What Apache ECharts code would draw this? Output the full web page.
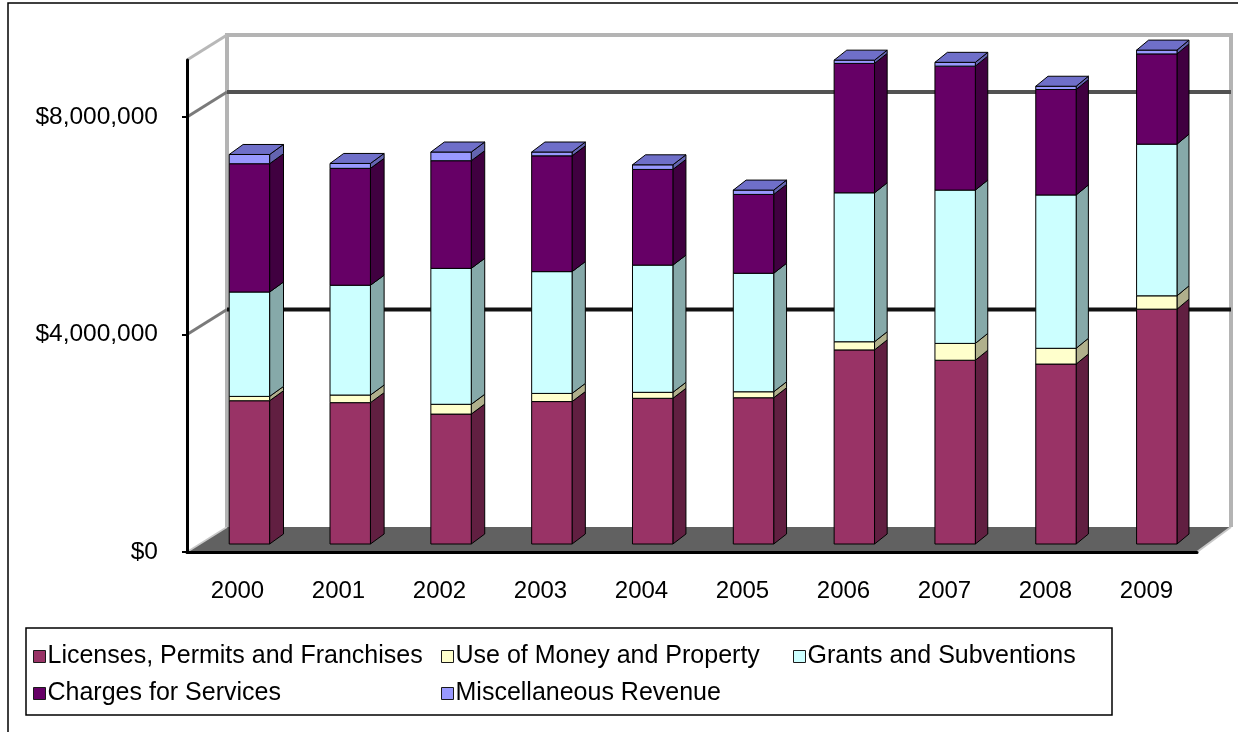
<!DOCTYPE html>
<html>
<head>
<meta charset="utf-8">
<script src="https://cdn.jsdelivr.net/npm/echarts@6/dist/echarts.min.js"></script>
<style>
  html, body { margin: 0; padding: 0; background: #ffffff; }
  #chart { width: 1238px; height: 732px; }
</style>
</head>
<body>
<div id="chart"></div>
<script>
// Revenue by source, fiscal years 2000-2009 (dollars)
const years = ['2000', '2001', '2002', '2003', '2004', '2005', '2006', '2007', '2008', '2009'];
const licenses = [2635000, 2600000, 2390000, 2620000, 2680000, 2690000, 3570000, 3380000, 3310000, 4320000];
const useOfMoney = [80000, 140000, 180000, 150000, 110000, 110000, 150000, 310000, 290000, 245000];
const grants = [1920000, 2020000, 2500000, 2240000, 2340000, 2180000, 2740000, 2820000, 2820000, 2790000];
const charges = [2360000, 2150000, 1980000, 2130000, 1760000, 1450000, 2380000, 2280000, 1940000, 1660000];
const misc = [170000, 90000, 160000, 70000, 85000, 80000, 60000, 70000, 60000, 70000];
const seriesNames = [
  'Licenses, Permits and Franchises',
  'Use of Money and Property',
  'Grants and Subventions',
  'Charges for Services',
  'Miscellaneous Revenue'
];
const yTicks = [0, 4000000, 8000000];
const yMax = 9050000;

// Face colours: front, side and top of each box
const frontColors = ['#993366', '#FFFFCC', '#CCFFFF', '#660066', '#9999FF'];
const sideColors = ['#611f41', '#b0b08c', '#86a9a9', '#400040', '#6464b0'];
const topColor = '#6f6fc9';

// Build stacked [index, base, top] triples
const layers = [licenses, useOfMoney, grants, charges, misc];
const running = years.map(() => 0);
const stacked = layers.map(vals => vals.map((v, i) => {
  const base = running[i];
  running[i] += v;
  return [i, base, running[i]];
}));

// Pseudo-3D geometry
const WALL_DX = 40, WALL_DY = -25;     // front plane -> back wall
const SHRINK = 0.15;                   // horizontal depth shrinks slightly to the right
const BAR_DX = 12, BAR_DY = -8;        // front plane -> bar front face
const BOX_DX = 14, BOX_DY = -10;       // bar depth
const BAR_RATIO = 0.4;

function plotFrame(api) {
  const band = api.size([1, 0])[0];
  const c0 = api.coord([0, 0]);
  return { band: band, left: c0[0] - band / 2, width: band * years.length, y0: c0[1] };
}
function depthScale(x, f) { return 1 - SHRINK * (x - f.left) / f.width; }

function renderBackdrop(params, api) {
  const f = plotFrame(api);
  const right = f.left + f.width;
  const back = (x, y) => [x + WALL_DX * depthScale(x, f), y + WALL_DY];
  const yTop = api.coord([0, yMax])[1];
  const bl = back(f.left, f.y0), br = back(right, f.y0);
  const tl = back(f.left, yTop), tr = back(right, yTop);
  const kids = [];
  // floor
  kids.push({ type: 'polygon', shape: { points: [[f.left, f.y0], [right, f.y0], br, bl] },
    style: { fill: '#616161' } });
  kids.push({ type: 'line', shape: { x1: f.left, y1: f.y0, x2: bl[0], y2: bl[1] },
    style: { stroke: '#c8c8c8', lineWidth: 1.5 } });
  kids.push({ type: 'line', shape: { x1: right, y1: f.y0, x2: br[0], y2: br[1] },
    style: { stroke: '#c8c8c8', lineWidth: 2 } });
  // back wall outline and side wall top edge
  kids.push({ type: 'polyline', shape: { points: [bl, tl, tr, br] },
    style: { stroke: '#b4b4b4', lineWidth: 4, fill: null } });
  kids.push({ type: 'line', shape: { x1: f.left, y1: yTop, x2: tl[0], y2: tl[1] },
    style: { stroke: '#b8b8b8', lineWidth: 3 } });
  // gridlines across the back wall, joined to the axis along the side wall
  yTicks.forEach((v, n) => {
    if (v === 0) return;
    const y = api.coord([0, v])[1];
    const a = back(f.left, y), b = back(right, y);
    kids.push({ type: 'line', shape: { x1: f.left, y1: y, x2: a[0], y2: a[1] },
      style: { stroke: '#7a7a7a', lineWidth: 3 } });
    kids.push({ type: 'line', shape: { x1: a[0], y1: a[1], x2: b[0], y2: b[1] },
      style: { stroke: n === 1 ? '#111111' : '#525252', lineWidth: 4 } });
  });
  return { type: 'group', children: kids };
}

function makeBoxRenderer(s) {
  const isTop = s === layers.length - 1;
  return function (params, api) {
    const f = plotFrame(api);
    const i = api.value(0);
    const pLo = api.coord([i, api.value(1)]);
    const pHi = api.coord([i, api.value(2)]);
    const k = depthScale(pLo[0], f);
    const w = f.band * BAR_RATIO;
    const x0 = pLo[0] - w / 2 + BAR_DX * k, x1 = x0 + w;
    const yb = pLo[1] + BAR_DY, yt = pHi[1] + BAR_DY;
    const dx = BOX_DX * k, dy = BOX_DY;
    const edge = { stroke: '#000000', lineWidth: 1 };
    const kids = [
      { type: 'polygon', shape: { points: [[x1, yt], [x1 + dx, yt + dy], [x1 + dx, yb + dy], [x1, yb]] },
        style: Object.assign({ fill: sideColors[s] }, edge) },
      { type: 'rect', shape: { x: x0, y: yt, width: w, height: yb - yt },
        style: Object.assign({ fill: frontColors[s] }, edge) }
    ];
    if (isTop) {
      kids.push({ type: 'polygon', shape: { points: [[x0, yt], [x1, yt], [x1 + dx, yt + dy], [x0 + dx, yt + dy]] },
        style: Object.assign({ fill: topColor }, edge) });
    }
    return { type: 'group', children: kids };
  };
}

const FONT = "'Liberation Sans', Arial, sans-serif";
const legendBase = {
  padding: 0, itemWidth: 12, itemHeight: 26, itemGap: 0,
  icon: 'path://M0,0h10v10h-10z', selectedMode: false,
  itemStyle: { borderColor: '#1a1a1a', borderWidth: 1 },
  textStyle: { fontFamily: FONT, fontSize: 25, color: '#000000', padding: [0, 0, 0, -3] }
};
const legendSlots = [
  { name: seriesNames[0], left: 33, top: 644 },
  { name: seriesNames[1], left: 441, top: 644 },
  { name: seriesNames[2], left: 793, top: 644 },
  { name: seriesNames[3], left: 33, top: 681 },
  { name: seriesNames[4], left: 441, top: 681 }
];

const chart = echarts.init(document.getElementById('chart'), null, { renderer: 'canvas' });
chart.setOption({
  animation: false,
  backgroundColor: '#ffffff',
  textStyle: { fontFamily: FONT },
  grid: { left: 187, right: 41, top: 60, bottom: 180, containLabel: false },
  xAxis: {
    type: 'category', data: years, z: 10,
    axisLine: { lineStyle: { color: '#000000', width: 3 } },
    axisTick: { interval: 0, length: 7, lineStyle: { color: '#000000', width: 2 } },
    axisLabel: { interval: 0, fontSize: 24, color: '#000000', margin: 27, fontFamily: FONT },
    splitLine: { show: false }
  },
  yAxis: {
    type: 'value', min: 0, max: yMax, interval: 4000000, z: 10,
    axisLine: { show: true, lineStyle: { color: '#000000', width: 3 } },
    axisTick: { show: true, length: 5, customValues: yTicks, lineStyle: { color: '#000000', width: 2 } },
    axisLabel: {
      customValues: yTicks, fontSize: 24.5, color: '#000000', margin: 29, fontFamily: FONT,
      formatter: v => '$' + Math.round(v).toLocaleString('en-US')
    },
    splitLine: { show: false }
  },
  legend: legendSlots.map(sl => Object.assign({}, legendBase, { data: [sl.name], left: sl.left, top: sl.top })),
  graphic: [
    { type: 'rect', silent: true, shape: { x: 8, y: 3, width: 1260, height: 760 },
      style: { fill: null, stroke: '#000000', lineWidth: 1.5 } },
    { type: 'rect', silent: true, shape: { x: 26, y: 628, width: 1086, height: 87 },
      style: { fill: null, stroke: '#000000', lineWidth: 1.5 } }
  ],
  series: [
    { type: 'custom', name: 'backdrop', z: 1, silent: true, renderItem: renderBackdrop,
      data: [[0, 0]], encode: { x: 0, y: 1 } }
  ].concat(seriesNames.map((name, s) => ({
    type: 'custom', name: name, z: 3, renderItem: makeBoxRenderer(s),
    itemStyle: { color: frontColors[s] },
    data: stacked[s], encode: { x: 0, y: [1, 2] }
  })))
});
</script>
</body>
</html>
